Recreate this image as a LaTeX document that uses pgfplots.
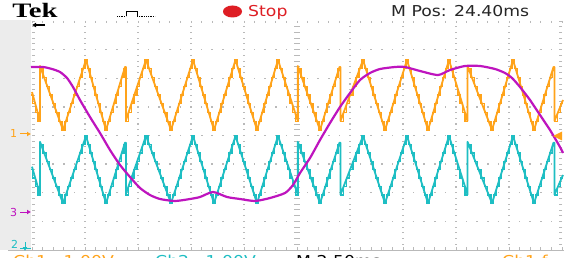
\documentclass[border=0pt]{standalone}
\usepackage{pgfplots}
\usepackage{pgfplotstable}
\pgfplotsset{compat=1.18}
\usepackage{fontspec}
\setmainfont{DejaVu Sans}
\newfontfamily\tekfont{Liberation Serif}
\usetikzlibrary{arrows.meta}
\definecolor{chone}{RGB}{255,163,26}
\definecolor{chtwo}{RGB}{30,190,195}
\definecolor{chthree}{RGB}{190,20,190}
\definecolor{gridc}{RGB}{185,185,185}
\definecolor{stripc}{RGB}{236,236,236}
\definecolor{stopred}{RGB}{222,30,36}
% carrier traces: x (px), ch1 level (px), ch2 level (px) -- staircase as displayed
\pgfplotstableread{
x yo yc
31 95 169.6
32.5 103.75 178
35.2 112.5 186.4
37.8 121.25 194.8
40 68.75 144.4
43.1 77.5 152.8
46.3 86.25 161.2
49.4 95 169.6
52.6 103.75 178
55.7 112.5 186.4
58.9 121.25 194.8
62 130 203.2
64.9 121.25 194.8
67.75 112.5 186.4
70.6 103.75 178
73.5 95 169.6
76.4 86.25 161.2
79.25 77.5 152.8
82.1 68.75 144.4
85 60 136
87.5 68.75 144.4
90 77.5 152.8
92.5 86.25 161.2
95 95 169.6
97.5 103.75 178
100 112.5 186.4
102.5 121.25 194.8
105 130 203.2
107.7 121.25 194.8
110.4 112.5 186.4
113.2 103.75 178
115.9 95 169.6
118.6 86.25 161.2
121.3 77.5 152.8
124 68.75 144.4
126 121.25 194.8
128.7 112.5 186.4
131.4 103.75 178
134.1 95 169.6
136.9 86.25 161.2
139.6 77.5 152.8
142.3 68.75 144.4
145 60 136
148.1 68.75 144.4
151.25 77.5 152.8
154.4 86.25 161.2
157.5 95 169.6
160.6 103.75 178
163.75 112.5 186.4
166.9 121.25 194.8
170 130 203.2
172.75 121.25 194.8
175.5 112.5 186.4
178.25 103.75 178
181 95 169.6
183.75 86.25 161.2
186.5 77.5 152.8
189.25 68.75 144.4
192 60 136
194.6 68.75 144.4
197.25 77.5 152.8
199.9 86.25 161.2
202.5 95 169.6
205.1 103.75 178
207.75 112.5 186.4
210.4 121.25 194.8
213 130 203.2
215.7 121.25 194.8
218.4 112.5 186.4
221.1 103.75 178
223.75 95 169.6
226.4 86.25 161.2
229.1 77.5 152.8
231.8 68.75 144.4
234.5 60 136
237.2 68.75 144.4
239.9 77.5 152.8
242.6 86.25 161.2
245.25 95 169.6
247.9 103.75 178
250.6 112.5 186.4
253.3 121.25 194.8
256 130 203.2
258.6 121.25 194.8
261.25 112.5 186.4
263.9 103.75 178
266.5 95 169.6
269.1 86.25 161.2
271.75 77.5 152.8
274.4 68.75 144.4
277 60 136
279.6 68.75 144.4
282.2 77.5 152.8
284.8 86.25 161.2
287.4 95 169.6
290 103.75 178
292.6 112.5 186.4
295.2 121.25 194.8
297.8 68.75 144.4
300.8 77.5 152.8
303.9 86.25 161.2
306.9 95 169.6
309.9 103.75 178
313 112.5 186.4
316 121.25 194.8
319 130 203.2
321.7 121.25 194.8
324.4 112.5 186.4
327.1 103.75 178
329.8 95 169.6
332.5 86.25 161.2
335.2 77.5 152.8
337.9 68.75 144.4
340.5 121.25 194.8
343.6 112.5 186.4
346.6 103.75 178
349.7 95 169.6
352.8 86.25 161.2
355.9 77.5 152.8
358.9 68.75 144.4
362 60 136
364.75 68.75 144.4
367.5 77.5 152.8
370.25 86.25 161.2
373 95 169.6
375.75 103.75 178
378.5 112.5 186.4
381.25 121.25 194.8
384 130 203.2
386.75 121.25 194.8
389.5 112.5 186.4
392.25 103.75 178
395 95 169.6
397.75 86.25 161.2
400.5 77.5 152.8
403.25 68.75 144.4
406 60 136
408.6 68.75 144.4
411.25 77.5 152.8
413.9 86.25 161.2
416.5 95 169.6
419.1 103.75 178
421.75 112.5 186.4
424.4 121.25 194.8
427 130 203.2
429.6 121.25 194.8
432.25 112.5 186.4
434.9 103.75 178
437.5 95 169.6
440.1 86.25 161.2
442.75 77.5 152.8
445.4 68.75 144.4
448 60 136
450.4 68.75 144.4
452.9 77.5 152.8
455.3 86.25 161.2
457.7 95 169.6
460.1 103.75 178
462.6 112.5 186.4
465 121.25 194.8
467.5 68.75 144.4
470.9 77.5 152.8
474.2 86.25 161.2
477.6 95 169.6
480.9 103.75 178
484.3 112.5 186.4
487.6 121.25 194.8
491 130 203.2
493.6 121.25 194.8
496.25 112.5 186.4
498.9 103.75 178
501.5 95 169.6
504.1 86.25 161.2
506.75 77.5 152.8
509.4 68.75 144.4
512 60 136
514.6 68.75 144.4
517.25 77.5 152.8
519.9 86.25 161.2
522.5 95 169.6
525.1 103.75 178
527.75 112.5 186.4
530.4 121.25 194.8
533 130 203.2
535.75 121.25 194.8
538.5 112.5 186.4
541.25 103.75 178
544 95 169.6
546.75 86.25 161.2
549.5 77.5 152.8
552.25 68.75 144.4
554.5 121.25 194.8
557.5 112.5 186.4
560.5 103.75 178
563 103.75 178
}\carriers
\begin{document}
\begin{tikzpicture}
\useasboundingbox (0,0) rectangle (564pt,257pt);
\begin{scope}[yshift=257pt,x=1pt,y=-1pt]
  \fill[white] (0,0) rectangle (564,257);
  \fill[stripc] (0,20) rectangle (31,250);
  % graticule
  \foreach \i in {1,2,3,4,6,7,8,9} {
    \foreach \j in {1,...,39} {
      \fill[gridc] ({32+53*\i-0.8},{21+5.725*\j-0.55}) rectangle ({32+53*\i+0.8},{21+5.725*\j+0.55});
    }
  }
  \foreach \j in {1,2,3,5,6,7} {
    \foreach \i in {1,...,49} {
      \fill[gridc] ({32+10.6*\i-0.8},{21+28.625*\j-0.7}) rectangle ({32+10.6*\i+0.8},{21+28.625*\j+0.7});
    }
  }
  \foreach \j in {1,...,39} {
    \draw[gridc, line width=0.9pt] (294,{21+5.725*\j}) -- (300,{21+5.725*\j});
  }
  \foreach \i in {1,...,49} {
    \fill[gridc] ({32+10.6*\i-0.9},{135.5-0.9}) rectangle ({32+10.6*\i+0.9},{135.5+0.9});
  }
  \foreach \i in {0,...,50} {
    \draw[gridc, line width=0.8pt] ({32+10.6*\i},21) -- ({32+10.6*\i},23);
    \draw[gridc, line width=0.8pt] ({32+10.6*\i},250) -- ({32+10.6*\i},247);
  }
  \foreach \j in {0,...,40} {
    \draw[gridc, line width=0.8pt] (32,{21+5.725*\j}) -- (35,{21+5.725*\j});
    \draw[gridc, line width=0.8pt] (562,{21+5.725*\j}) -- (559,{21+5.725*\j});
  }
  \draw[gridc, line width=1.2pt] (8,250.8) -- (564,250.8);
  % top bar
  \node[anchor=base west, inner sep=0, xscale=1.4] at (12,17.5) {\tekfont\bfseries\fontsize{20.5}{21}\selectfont Tek};
  \draw[black, line width=0.8pt] (126,16.5) -- (126,11) -- (137,11) -- (137,16.5);
  \draw[black, line width=0.8pt, densely dotted] (117,16.5) -- (126,16.5);
  \draw[black, line width=0.8pt, densely dotted] (137,16.5) -- (155,16.5);
  \fill[stopred] (232.5,11.5) ellipse (9.5 and 6);
  \node[anchor=base west, inner sep=0, xscale=1.15, text=stopred] at (248,16.5) {\fontsize{15}{15}\selectfont Stop};
  \node[anchor=base west, inner sep=0, xscale=1.15, text=black!85] at (391,16.5) {\fontsize{15}{15}\selectfont M Pos: 24.40ms};
  \draw[black, line width=1.1pt, -{Latex[length=4pt,width=5pt]}] (45,25) -- (32,25);
  % channel markers
  \node[anchor=base west, inner sep=0, text=chone] at (10,138) {\fontsize{11}{11}\selectfont 1};
  \draw[chone, line width=1pt, -{Latex[length=4pt,width=5pt]}] (20,134) -- (31,134);
  \node[anchor=base west, inner sep=0, text=chthree] at (10,216.5) {\fontsize{11}{11}\selectfont 3};
  \draw[chthree, line width=1pt, -{Latex[length=4pt,width=5pt]}] (20,212) -- (31,212);
  \node[anchor=base west, inner sep=0, text=chtwo] at (11,248) {\fontsize{11}{11}\selectfont 2};
  \draw[chtwo, line width=1pt] (20,248.5) -- (31,248.5);
  \draw[chtwo, line width=1pt, -{Latex[length=4pt,width=5pt]}] (25,242) -- (25,251);
  % bottom status line (cut off by the screen edge, as in the capture)
  \node[overlay, anchor=base west, inner sep=0, xscale=1.15, text=chone] at (13,266.5) {\fontsize{15}{15}\selectfont Ch1\ \ \ 1.00V};
  \node[overlay, anchor=base west, inner sep=0, xscale=1.15, text=chtwo] at (155,266.5) {\fontsize{15}{15}\selectfont Ch2\ \ \ 1.00V};
  \node[overlay, anchor=base west, inner sep=0, xscale=1.15, text=black] at (296,266.5) {\fontsize{15}{15}\selectfont M 2.50ms};
  \node[overlay, anchor=base west, inner sep=0, xscale=1.15, text=chone] at (502,266.5) {\fontsize{15}{15}\selectfont Ch1 f};
\end{scope}
\begin{axis}[at={(0,0)}, anchor=south west, scale only axis, width=564pt, height=257pt,
  xmin=0, xmax=564, ymin=0, ymax=257, y dir=reverse, hide axis, clip=true]
% ch1 envelope (vertices) and its displayed staircase
\addplot[chone, line width=1.8pt, line join=round] coordinates {
(32,92) (40,121) (40,66) (63,130) (86,60) (106,130) (125,67) (126,67) (126,120) (146,60)
(171,130) (193,60) (214,130) (235.5,60) (257,130) (278,60) (297.8,121) (297.8,66) (320,130)
(339.5,67) (340.5,67) (340.5,121) (363,60) (385,130) (407,60) (428,130) (449,60)
(467.5,121) (467.5,66) (492,130) (513,60) (534,130) (553.5,67) (554.5,67) (554.5,121) (563,100)
};
\addplot[chone, line width=1.4pt, const plot, line join=miter] table[x=x, y=yo] {\carriers};
% ch2 envelope (vertices) and its displayed staircase
\addplot[chtwo, line width=1.8pt, line join=round] coordinates {
(32,166.7) (40,194.6) (40,141.8) (63,203.2) (86,136) (106,203.2) (125,142.7) (126,142.7)
(126,193.6) (146,136) (171,203.2) (193,136) (214,203.2) (235.5,136) (257,203.2) (278,136)
(297.8,194.6) (297.8,141.8) (320,203.2) (339.5,142.7) (340.5,142.7) (340.5,194.6) (363,136)
(385,203.2) (407,136) (428,203.2) (449,136) (467.5,194.6) (467.5,141.8) (492,203.2) (513,136)
(534,203.2) (553.5,142.7) (554.5,142.7) (554.5,194.6) (563,175)
};
\addplot[chtwo, line width=1.4pt, const plot, line join=miter] table[x=x, y=yc] {\carriers};
\addplot[chthree, line width=2.2pt, line join=round, smooth, tension=0.4] coordinates {
(31,67) (43,67) (52,69) (60,72) (67,78) (73,87) (80,100) (90,117) (100,133) (110,150)
(120,165) (130,177) (140,188) (150,195) (160,199) (175,201) (190,199) (200,197) (213,192)
(227,197) (240,199) (255,201) (270,198) (285,193) (293,185) (300,173) (310,158) (320,140)
(330,123) (340,107) (350,93) (360,80) (370,73) (380,69) (395,67) (405,67) (420,71) (438,75)
(450,70) (465,66) (480,66) (495,69) (505,73) (512,78) (520,87) (530,100) (540,115) (550,130)
(560,147) (563,153)
};
\end{axis}
\begin{scope}[yshift=257pt,x=1pt,y=-1pt]
  \fill[chone] (553,136) -- (562,131.5) -- (562,140.5) -- cycle;
\end{scope}
\end{tikzpicture}
\end{document}
